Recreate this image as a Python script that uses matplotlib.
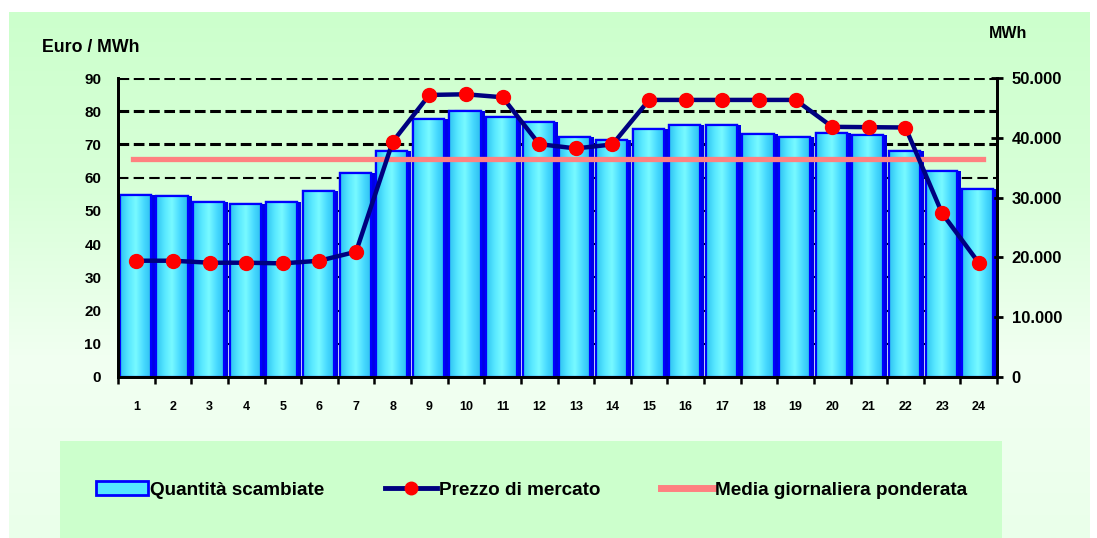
import numpy as np
import matplotlib
matplotlib.use("Agg")
import matplotlib.pyplot as plt
from matplotlib.patches import Rectangle
from matplotlib.lines import Line2D
from matplotlib.ticker import FuncFormatter, FixedLocator
import matplotlib.transforms as mtransforms
from matplotlib.colors import LinearSegmentedColormap

plt.rcParams['font.family'] = ['Liberation Sans', 'DejaVu Sans']

# ---------------- data ----------------
hours = list(range(1, 25))
quantita = [30400, 30200, 29300, 29000, 29300, 31100, 34100, 37800,
            43100, 44400, 43500, 42700, 40100, 39700, 41500, 42100,
            42100, 40700, 40100, 40800, 40500, 37800, 34400, 31400]
prezzo = [35.0, 35.0, 34.4, 34.4, 34.2, 35.0, 37.7, 70.8,
          84.9, 85.1, 84.2, 70.1, 68.8, 70.0, 83.4, 83.4,
          83.4, 83.4, 83.4, 75.3, 75.2, 75.1, 49.3, 34.4]
media_ponderata = 65.6
left_ticks = [0, 10, 20, 30, 40, 50, 60, 70, 80, 90]
right_ticks = [0, 10000, 20000, 30000, 40000, 50000]
labels = ["Quantità scambiate", "Prezzo di mercato", "Media giornaliera ponderata"]

W, H = 1097, 538
fig = plt.figure(figsize=(W / 100, H / 100), dpi=100)
fig.patch.set_facecolor('white')

def fx(px):
    return px / W

def fy(py):
    return 1 - py / H

# background panel with gradient
bg = fig.add_axes([fx(9), 0, fx(1090) - fx(9), fy(12)])
bg.set_zorder(-10)
bg_cmap = LinearSegmentedColormap.from_list('bg', ['#CCFFCC', '#D8FFD8', '#F2FFF2', '#EAFFEA'])
grad = np.linspace(0, 1, 256).reshape(-1, 1)
bg.imshow(grad, aspect='auto', cmap=bg_cmap, extent=[0, 1, 0, 1], origin='upper')
bg.set_xlim(0, 1); bg.set_ylim(0, 1)
bg.axis('off')
bg.add_patch(Rectangle((fx(61) - fx(9), 0), (fx(1003) - fx(61)) / (fx(1090) - fx(9)),
                       (fy(441)) / fy(12), transform=bg.transAxes,
                       facecolor='#CCFFCC', edgecolor='none'))

# main axes
rect = [fx(118), fy(377), fx(997) - fx(118), fy(78) - fy(377)]
ax = fig.add_axes(rect)
ax_r = ax.twinx()
ax.set_zorder(ax_r.get_zorder() + 1)
ax.patch.set_visible(False)
ax_r.patch.set_visible(False)

ax.set_xlim(0.5, 24.5)
ax.set_ylim(0, 90)
ax_r.set_ylim(0, 50000)

# gridlines (drawn in bar axes, but in price coordinates) behind bars
gtrans = mtransforms.blended_transform_factory(ax_r.transAxes, ax.transData)
for v in left_ticks[1:]:
    ax_r.plot([0, 1], [v, v], transform=gtrans, color='black',
              lw=2.2 if v >= 70 else 1.5,
              dashes=(3.5, 1.5) if v >= 70 else (5, 2.5), zorder=0.5, solid_capstyle='butt')

# bars: shadow + gradient face
bar_cmap = LinearSegmentedColormap.from_list('bar', ['#2EC2F2', '#55E6FF', '#78FAFF', '#48DAFF', '#2CBDEE'])
hgrad = np.linspace(0, 1, 64).reshape(1, -1)
ax_r.bar(np.array(hours) + 0.06, quantita, width=0.9, color='#0000E6', edgecolor='none', zorder=1)
faces = ax_r.bar(np.array(hours) - 0.025, quantita, width=0.85, color='#55E6FF',
                 edgecolor='#0000FF', linewidth=1.6, zorder=2)
for p in faces:
    x0, y0 = p.get_x(), p.get_y()
    w, h = p.get_width(), p.get_height()
    im = ax_r.imshow(hgrad, aspect='auto', cmap=bar_cmap, extent=[x0, x0 + w, y0, y0 + h],
                     zorder=2.1, interpolation='bilinear')
    im.set_clip_path(p)
    edge = Rectangle((x0, y0), w, h, facecolor='none', edgecolor='#0000FF', linewidth=1.6, zorder=2.2)
    ax_r.add_patch(edge)
ax_r.set_xlim(0.5, 24.5)
ax_r.set_ylim(0, 50000)

# media line and price line
ax.axhline(media_ponderata, xmin=0.017, xmax=0.984, color='#FF8080', lw=3.8, zorder=3)
ax.plot(hours, prezzo, color='#000080', lw=3.2, zorder=4,
        marker='o', markersize=10, markerfacecolor='#FF0000', markeredgecolor='#FF0000')

# spines
for a in (ax, ax_r):
    a.spines['top'].set_visible(False)
    for s in ('left', 'right', 'bottom'):
        a.spines[s].set_linewidth(2)
        a.spines[s].set_color('black')

# left ticks
ax.set_yticks(left_ticks)
ax.tick_params(axis='y', length=0, pad=12, labelsize=11)
for t in ax.get_yticklabels():
    t.set_fontweight('bold')

# right ticks
ax_r.set_yticks(right_ticks)
ax_r.yaxis.set_major_formatter(FuncFormatter(lambda v, p: '0' if v == 0 else f"{int(v):,}".replace(',', '.')))
ax_r.tick_params(axis='y', direction='inout', length=9, width=2, pad=6, labelsize=12)
for t in ax_r.get_yticklabels():
    t.set_fontweight('bold')

# x ticks: labels at centers, tick marks at boundaries
ax.set_xticks(hours)
ax.set_xticklabels([str(h) for h in hours])
ax.xaxis.set_minor_locator(FixedLocator(np.arange(0.5, 25, 1)))
ax.tick_params(axis='x', which='major', length=0, pad=17, labelsize=9)
ax.tick_params(axis='x', which='minor', length=5, width=1.8, direction='out')
for t in ax.get_xticklabels():
    t.set_fontweight('bold')
ax_r.tick_params(axis='x', bottom=False, labelbottom=False)

# axis titles
fig.text(fx(42), fy(48), "Euro / MWh", fontsize=12.8, fontweight='bold', va='center', ha='left')
fig.text(fx(989), fy(33), "MWh", fontsize=11.5, fontweight='bold', va='center', ha='left')

# legend
h1 = Rectangle((0, 0), 1, 1, facecolor='#55E6FF', edgecolor='#0000FF', linewidth=2)
h2 = Line2D([], [], color='#000080', lw=3.5, marker='o', markersize=9,
            markerfacecolor='#FF0000', markeredgecolor='#FF0000')
h3 = Line2D([], [], color='#FF8080', lw=5)
leg = fig.legend([h1, h2, h3], labels, loc='center left', bbox_to_anchor=(fx(79), fy(490)),
                 ncol=3, frameon=False, handlelength=2.75, handleheight=0.72, handletextpad=0.12,
                 columnspacing=3.2, prop={'size': 13.6, 'weight': 'bold'})

fig.savefig('out.png', dpi=100)
